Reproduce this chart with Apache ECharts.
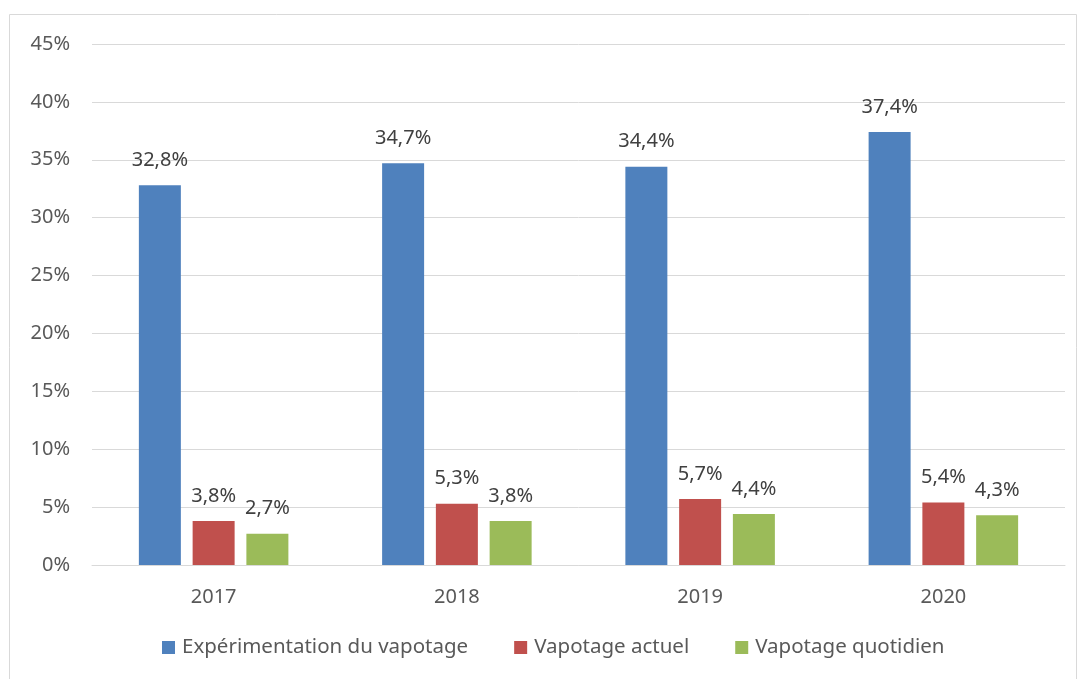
<!DOCTYPE html>
<html>
<head>
<meta charset="utf-8">
<script src="https://cdn.jsdelivr.net/npm/echarts@6/dist/echarts.min.js"></script>
<style>
  html, body { margin: 0; padding: 0; background: #fff; }
  #chart { width: 1079px; height: 679px; }
</style>
</head>
<body>
<div id="chart"></div>
<script>
const years = ['2017', '2018', '2019', '2020'];
const experimentation = [32.8, 34.7, 34.4, 37.4];
const actuel = [3.8, 5.3, 5.7, 5.4];
const quotidien = [2.7, 3.8, 4.4, 4.3];

const seriesNames = ['Expérimentation du vapotage', 'Vapotage actuel', 'Vapotage quotidien'];
const colors = ['#4f81bd', '#c0504d', '#9bbb59'];
const font = 'Noto Sans';

const fmt = v => v.toFixed(1).replace('.', ',') + '%';

function makeSeries(name, data, color) {
    return {
        name: name,
        type: 'bar',
        data: data,
        barWidth: 42,
        barGap: '28%',
        itemStyle: { color: color },
        label: {
            show: true,
            position: 'top',
            distance: 15,
            formatter: p => fmt(p.value),
            color: '#404040',
            fontFamily: font,
            fontSize: 20
        }
    };
}

const chart = echarts.init(document.getElementById('chart'));
chart.setOption({
    animation: false,
    color: colors,
    graphic: [{
        type: 'rect',
        shape: { x: 9.5, y: 14.5, width: 1067, height: 680 },
        style: { fill: 'none', stroke: '#d9d9d9', lineWidth: 1 }
    }],
    grid: { left: 92, right: 14, top: 44, bottom: 114 },
    legend: {
        bottom: 16,
        left: 157,
        itemWidth: 13,
        itemHeight: 13,
        itemGap: 46,
        icon: 'rect',
        textStyle: { color: '#595959', fontFamily: font, fontSize: 20.5, padding: [0, 0, 0, 2] },
        data: seriesNames
    },
    xAxis: {
        type: 'category',
        data: years,
        axisTick: { show: false },
        axisLine: { lineStyle: { color: '#d9d9d9', width: 1 } },
        axisLabel: { color: '#595959', fontFamily: font, fontSize: 20, margin: 22 }
    },
    yAxis: {
        type: 'value',
        min: 0,
        max: 45,
        interval: 5,
        axisLine: { show: false },
        axisTick: { show: false },
        splitLine: { lineStyle: { color: '#d9d9d9', width: 1 } },
        axisLabel: { color: '#595959', fontFamily: font, fontSize: 20, margin: 22, formatter: v => v + '%' }
    },
    series: [
        makeSeries(seriesNames[0], experimentation, colors[0]),
        makeSeries(seriesNames[1], actuel, colors[1]),
        makeSeries(seriesNames[2], quotidien, colors[2])
    ]
});
</script>
</body>
</html>
